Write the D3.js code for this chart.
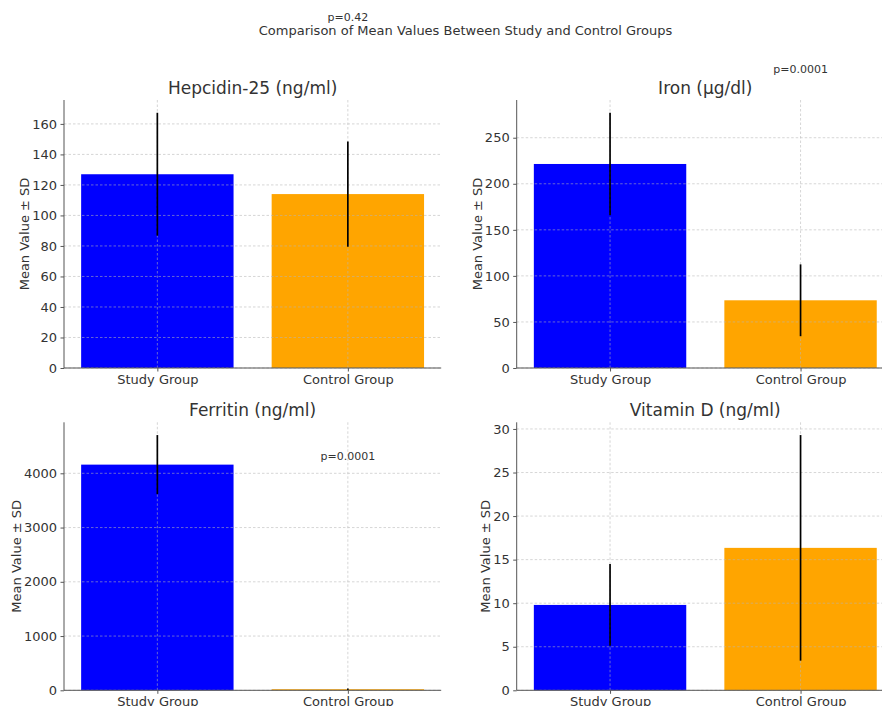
<!DOCTYPE html>
<html>
<head>
<meta charset="utf-8">
<script src="https://cdn.jsdelivr.net/npm/d3@7"></script>
<style>
  body { margin: 0; background: #fff; }
  text { font-family: "DejaVu Sans", sans-serif; fill: #333; }
</style>
</head>
<body>
<div id="container"></div>
<script>
// values
var panelTitles = ["Hepcidin-25 (ng/ml)", "Iron (µg/dl)", "Ferritin (ng/ml)", "Vitamin D (ng/ml)"];
var groups = ["Study Group", "Control Group"];
var studyMeans = [127, 221.5, 4160, 9.8];
var studySD = [40.3, 55.6, 545, 4.7];
var controlMeans = [114, 73.5, 20, 16.35];
var controlSD = [34.5, 39, 15, 12.95];
var pLabels = ["p=0.42", "p=0.0001", "p=0.0001", null];
var pLabelAt = [230, 325, 4320, null];   // y (data units) of the p label, above the control bar
var yTicks = [
  [0, 20, 40, 60, 80, 100, 120, 140, 160],
  [0, 50, 100, 150, 200, 250],
  [0, 1000, 2000, 3000, 4000],
  [0, 5, 10, 15, 20, 25, 30]
];
var groupColors = ["#0000ff", "#ffa500"];

var W = 882, H = 706;
var colLeft = [64, 516.7], rowTop = [100, 422.3];
var width = 377.2, height = 268;

var svg = d3.select("#container")
  .append("svg")
    .attr("width", W)
    .attr("height", H)
    .attr("id", "chart");

// figure title
svg.append("text")
  .attr("x", 465.5)
  .attr("y", 35)
  .attr("text-anchor", "middle")
  .style("font-size", "13px")
  .text("Comparison of Mean Values Between Study and Control Groups");

panelTitles.forEach(function(title, i) {
  var g = svg.append("g")
    .attr("transform", "translate(" + colLeft[i % 2] + "," + rowTop[Math.floor(i / 2)] + ")");

  var means = [studyMeans[i], controlMeans[i]];
  var sds = [studySD[i], controlSD[i]];
  var rows = groups.map(function(name, j) { return { name: name, j: j, mean: means[j], sd: sds[j] }; });

  // matplotlib-like x limits: bar width 0.8, 5% margins
  var x = d3.scaleLinear().domain([-0.49, 1.49]).range([0, width]);
  var yMax = d3.max(rows, function(d) { return d.mean + d.sd; }) * 1.05;
  var y = d3.scaleLinear().domain([0, yMax]).range([height, 0]);

  // bars
  g.selectAll("rect.bar")
    .data(rows)
    .enter().append("rect")
      .attr("class", "bar")
      .attr("x", function(d) { return x(d.j - 0.4); })
      .attr("width", x(0.8) - x(0))
      .attr("y", function(d) { return y(d.mean); })
      .attr("height", function(d) { return height - y(d.mean); })
      .attr("fill", function(d) { return groupColors[d.j]; });

  // grid (drawn over the bars, like the reference)
  var grid = g.append("g").attr("stroke", "#b5b5b5").attr("stroke-opacity", 0.7)
    .attr("stroke-width", 0.8).attr("stroke-dasharray", "2.5,2");
  grid.selectAll("line.h")
    .data(yTicks[i])
    .enter().append("line")
      .attr("x1", 0).attr("x2", width)
      .attr("y1", function(d) { return y(d); })
      .attr("y2", function(d) { return y(d); });
  grid.selectAll("line.v")
    .data([0, 1])
    .enter().append("line")
      .attr("y1", 0).attr("y2", height)
      .attr("x1", function(d) { return x(d); })
      .attr("x2", function(d) { return x(d); });

  // error bars (mean ± SD)
  g.selectAll("line.err")
    .data(rows)
    .enter().append("line")
      .attr("class", "err")
      .attr("x1", function(d) { return x(d.j); })
      .attr("x2", function(d) { return x(d.j); })
      .attr("y1", function(d) { return y(d.mean - d.sd); })
      .attr("y2", function(d) { return y(d.mean + d.sd); })
      .attr("stroke", "#000")
      .attr("stroke-width", 1.7);

  // axes
  var yAxis = g.append("g")
    .call(d3.axisLeft(y).tickValues(yTicks[i]).tickFormat(d3.format("d")).tickSize(3.5).tickPadding(3.5));
  var xAxis = g.append("g")
    .attr("transform", "translate(0," + height + ")")
    .call(d3.axisBottom(x).tickValues([0, 1]).tickFormat(function(d) { return groups[d]; })
      .tickSize(3.5).tickPadding(3));
  [yAxis, xAxis].forEach(function(a) {
    a.select(".domain").attr("stroke", "#555").attr("stroke-width", 1);
    a.selectAll(".tick line").attr("stroke", "#555");
    a.selectAll(".tick text").style("font-size", "13px").attr("fill", "#333").style("font-family", "DejaVu Sans");
  });
  yAxis.select(".domain").attr("d", "M0," + height + "V0");
  xAxis.select(".domain").attr("d", "M0,0H" + width);

  // titles and labels
  g.append("text")
    .attr("x", width / 2)
    .attr("y", -6)
    .attr("text-anchor", "middle")
    .style("font-size", "17px")
    .text(title);

  // y label sits just left of the widest tick label, as matplotlib does
  var tickBox = yAxis.node().getBBox();
  g.append("text")
    .attr("transform", "translate(" + (tickBox.x - 3) + "," + (height / 2) + ") rotate(-90)")
    .attr("text-anchor", "middle")
    .style("font-size", "13px")
    .text("Mean Value ± SD");

  if (pLabels[i]) {
    g.append("text")
      .attr("x", x(1))
      .attr("y", y(pLabelAt[i]))
      .attr("dy", "0.35em")
      .attr("text-anchor", "middle")
      .style("font-size", "11px")
      .text(pLabels[i]);
  }
});
</script>
</body>
</html>
